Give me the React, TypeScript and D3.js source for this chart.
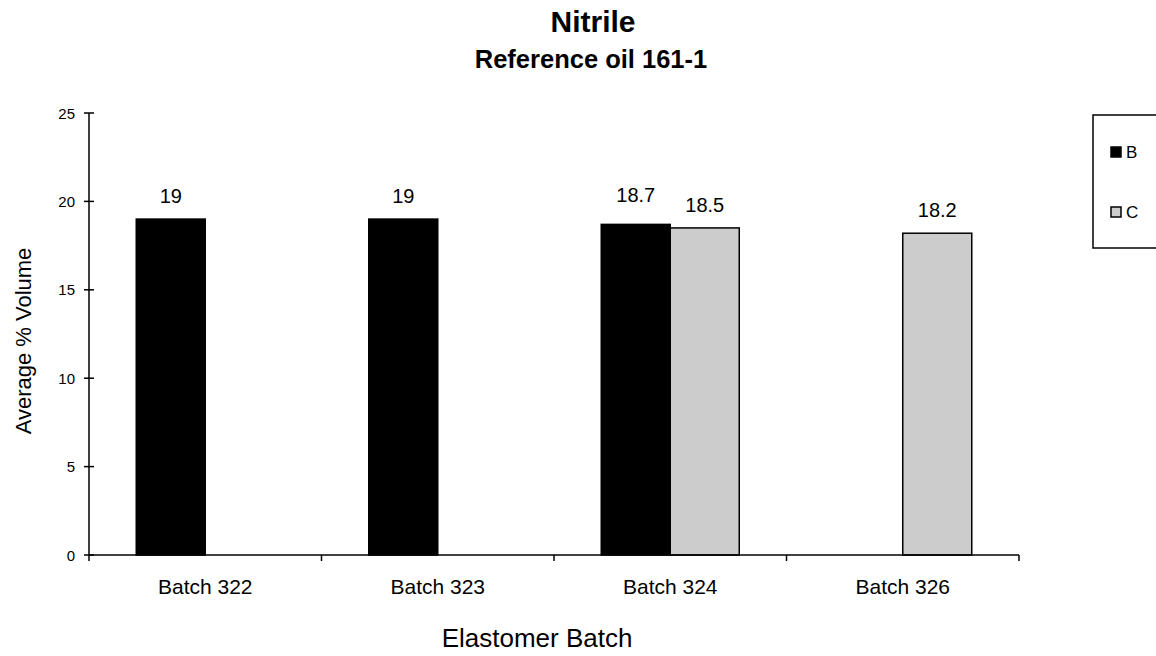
import React from "react";
import * as d3 from "d3";

const categories = ["Batch 322", "Batch 323", "Batch 324", "Batch 326"];
const seriesNames = ["B", "C"];
const seriesB: (number | null)[] = [19, 19, 18.7, null];
const seriesC: (number | null)[] = [null, null, 18.5, 18.2];
const yTicks = [0, 5, 10, 15, 20, 25];
const colors = ["#000000", "#cccccc"];

const W = 1156, H = 656;
const left = 89, right = 1019, top = 113, bottom = 555;

export default function App() {
  const x = d3.scaleBand<string>().domain(categories).range([left, right]);
  const y = d3.scaleLinear().domain([0, 25]).range([bottom, top]);
  const inner = d3.scaleBand<string>().domain(seriesNames).range([0, 138]);
  const series = [seriesB, seriesC];
  const font = "Arial, 'Liberation Sans', sans-serif";
  const boundaries = [...categories.map((c) => x(c)!), right];

  return (
    <svg width={W} height={H} style={{ position: "absolute", left: 0, top: 0, fontFamily: font }}>
      <rect width={W} height={H} fill="#fff" />
      <text x={593} y={32} textAnchor="middle" fontSize={30} fontWeight="bold">Nitrile</text>
      <text x={591} y={68} textAnchor="middle" fontSize={25.5} fontWeight="bold">Reference oil 161-1</text>

      {series.map((vals, si) =>
        vals.map((v, ci) => {
          if (v == null) return null;
          const cx = x(categories[ci])! + x.bandwidth() / 2 - 69;
          const bx = cx + inner(seriesNames[si])!;
          const both = seriesB[ci] != null && seriesC[ci] != null;
          const lift = both && si === 0 ? 6 : 0;
          return (
            <g key={`${si}-${ci}`}>
              <rect x={bx} y={y(v)} width={inner.bandwidth()} height={bottom - y(v)}
                fill={colors[si]} stroke="#000" strokeWidth={1.5} />
              <text x={bx + inner.bandwidth() / 2} y={y(v) - 16 - lift} textAnchor="middle" fontSize={20}>{v}</text>
            </g>
          );
        })
      )}

      <line x1={left} x2={left} y1={top} y2={bottom} stroke="#000" strokeWidth={1.5} />
      <line x1={left} x2={right} y1={bottom} y2={bottom} stroke="#000" strokeWidth={1.5} />
      {yTicks.map((t) => (
        <g key={t}>
          <line x1={left - 5} x2={left + 5} y1={y(t)} y2={y(t)} stroke="#000" strokeWidth={1.5} />
          <text x={75} y={y(t) + 5.5} textAnchor="end" fontSize={15}>{t}</text>
        </g>
      ))}
      {boundaries.map((b, i) => (
        <line key={i} x1={b} x2={b} y1={bottom} y2={bottom + 6} stroke="#000" strokeWidth={1.5} />
      ))}
      {categories.map((c) => (
        <text key={c} x={x(c)! + x.bandwidth() / 2} y={bottom + 39} textAnchor="middle" fontSize={21}>{c}</text>
      ))}
      <text x={537} y={647} textAnchor="middle" fontSize={26}>Elastomer Batch</text>
      <text transform={`translate(31,341) rotate(-90)`} textAnchor="middle" fontSize={22}>Average % Volume</text>

      <rect x={1093} y={115} width={70} height={133} fill="#fff" stroke="#000" strokeWidth={1.5} />
      {seriesNames.map((s, i) => (
        <g key={s}>
          <rect x={1111} y={147 + i * 60} width={10} height={10} fill={colors[i]} stroke="#000" strokeWidth={1.5} />
          <text x={1126} y={158 + i * 60} fontSize={17}>{s}</text>
        </g>
      ))}
    </svg>
  );
}
